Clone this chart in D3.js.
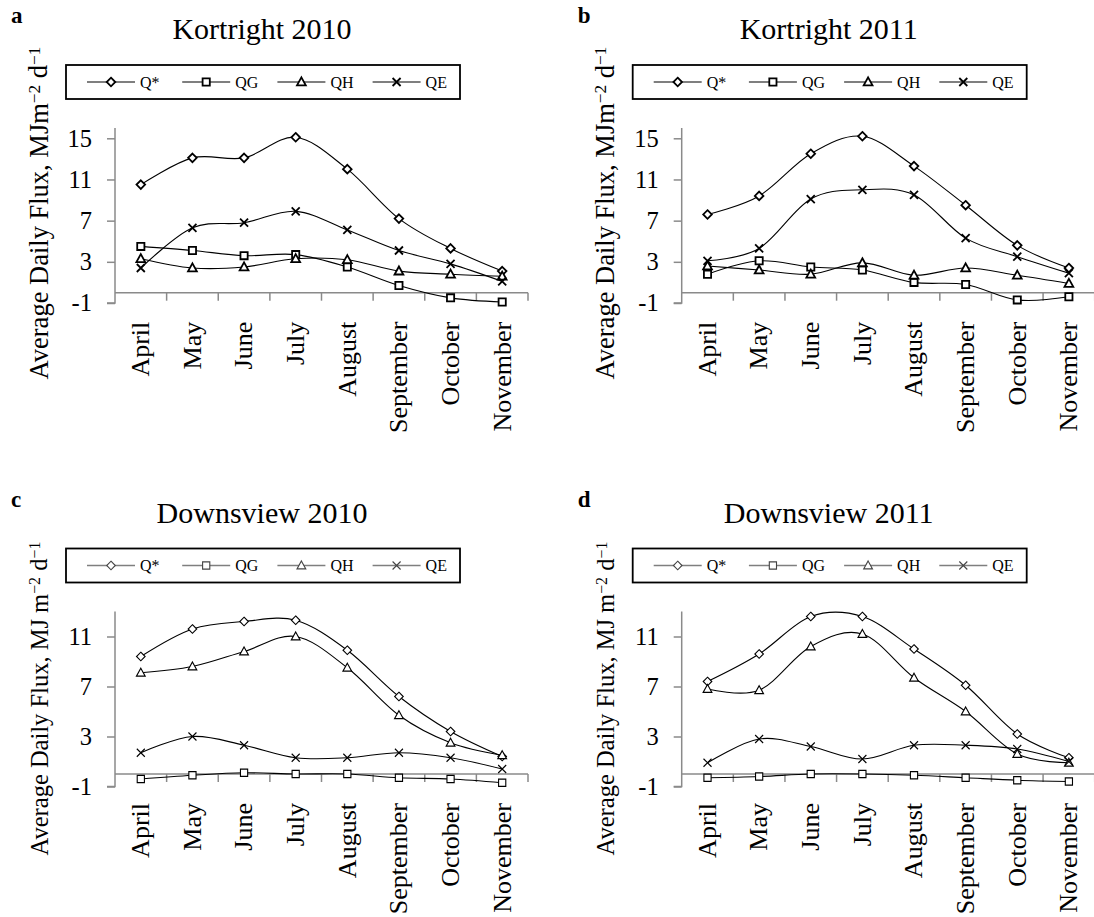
<!DOCTYPE html>
<html>
<head>
<meta charset="utf-8">
<script src="https://cdn.jsdelivr.net/npm/d3@7"></script>
<style>
  body { margin: 0; background: #fff; }
  svg text { font-family: "Liberation Serif", "Times New Roman", serif; fill: #000; }
</style>
</head>
<body>
<svg id="chart" width="1094" height="917"></svg>
<script>
// Months on the category axis
const months = ["April", "May", "June", "July", "August", "September", "October", "November"];
const seriesNames = ["Q*", "QG", "QH", "QE"];
const seriesShapes = ["diamond", "square", "triangle", "cross"];

// Kortright 2010 (MJ m-2 d-1)
const kort2010Qstar = [10.5, 13.1, 13.1, 15.1, 12.0, 7.2, 4.3, 2.1];
const kort2010QG    = [4.5, 4.1, 3.6, 3.7, 2.5, 0.7, -0.5, -0.9];
const kort2010QH    = [3.3, 2.4, 2.5, 3.3, 3.2, 2.1, 1.8, 1.6];
const kort2010QE    = [2.4, 6.3, 6.8, 7.9, 6.1, 4.1, 2.8, 1.1];

// Kortright 2011
const kort2011Qstar = [7.6, 9.4, 13.5, 15.2, 12.3, 8.5, 4.6, 2.4];
const kort2011QG    = [1.8, 3.1, 2.5, 2.2, 1.0, 0.8, -0.7, -0.4];
const kort2011QH    = [2.6, 2.2, 1.8, 2.9, 1.7, 2.4, 1.7, 0.9];
const kort2011QE    = [3.1, 4.3, 9.1, 10.0, 9.5, 5.3, 3.5, 1.9];

// Downsview 2010
const down2010Qstar = [9.4, 11.6, 12.2, 12.3, 9.9, 6.2, 3.4, 1.4];
const down2010QG    = [-0.4, -0.1, 0.1, 0.0, 0.0, -0.3, -0.4, -0.7];
const down2010QH    = [8.1, 8.6, 9.8, 11.0, 8.5, 4.7, 2.5, 1.5];
const down2010QE    = [1.7, 3.0, 2.3, 1.3, 1.3, 1.7, 1.3, 0.4];

// Downsview 2011
const down2011Qstar = [7.4, 9.6, 12.6, 12.6, 10.0, 7.1, 3.2, 1.3];
const down2011QG    = [-0.3, -0.2, 0.0, 0.0, -0.1, -0.3, -0.5, -0.6];
const down2011QH    = [6.8, 6.7, 10.2, 11.2, 7.7, 5.0, 1.6, 0.9];
const down2011QE    = [0.9, 2.8, 2.2, 1.2, 2.3, 2.3, 2.0, 1.0];

// Y axis ranges and ticks
const kortDomain = [-1, 16];
const kortTicks = [-1, 3, 7, 11, 15];
const downDomain = [-1, 13];
const downTicks = [-1, 3, 7, 11];

const panels = [
  { letter: "a", title: "Kortright 2010", unitMJ: "MJm", domain: kortDomain, ticks: kortTicks,
    data: [kort2010Qstar, kort2010QG, kort2010QH, kort2010QE], ox: 0, oy: 0, bold: true },
  { letter: "b", title: "Kortright 2011", unitMJ: "MJm", domain: kortDomain, ticks: kortTicks,
    data: [kort2011Qstar, kort2011QG, kort2011QH, kort2011QE], ox: 566.7, oy: 0, bold: true },
  { letter: "c", title: "Downsview 2010", unitMJ: "MJ m", domain: downDomain, ticks: downTicks,
    data: [down2010Qstar, down2010QG, down2010QH, down2010QE], ox: 0, oy: 483.5, bold: false },
  { letter: "d", title: "Downsview 2011", unitMJ: "MJ m", domain: downDomain, ticks: downTicks,
    data: [down2011Qstar, down2011QG, down2011QH, down2011QE], ox: 566.7, oy: 483.5, bold: false }
];

const axisColor = "#8a8a8a";
const plot = { left: 115, right: 528, top: 128, bottom: 303 };

function markerPath(shape) {
  switch (shape) {
    case "diamond": return "M0,-4.3L4.3,0L0,4.3L-4.3,0Z";
    case "square": return "M-3.6,-3.6H3.6V3.6H-3.6Z";
    case "triangle": return "M0,-4.6L4.4,3.4H-4.4Z";
    default: return "M-4,-4L4,4M4,-4L-4,4";
  }
}

const svg = d3.select("#chart");

panels.forEach(p => {
  const g = svg.append("g").attr("transform", `translate(${p.ox},${p.oy})`);
  const markerStroke = p.bold ? 1.8 : 1.1;

  const x = d3.scaleBand().domain(months).range([plot.left, plot.right]).padding(0);
  const y = d3.scaleLinear().domain(p.domain).range([plot.bottom, plot.top]);
  const cx = m => x(m) + x.bandwidth() / 2;

  // panel letter
  g.append("text").attr("x", 11).attr("y", 23)
    .attr("font-size", 23).attr("font-weight", "bold").text(p.letter);

  // title
  g.append("text").attr("x", 262).attr("y", 39).attr("text-anchor", "middle")
    .attr("font-size", 30).text(p.title);

  // y axis title with superscripts
  const yt = g.append("text")
    .attr("transform", `translate(47.5,${p.bold ? 213 : 215}) rotate(-90)`)
    .attr("text-anchor", "middle").attr("font-size", p.bold ? 26.5 : 24.5);
  yt.append("tspan").text("Average Daily Flux, " + p.unitMJ);
  yt.append("tspan").attr("dy", "-0.45em").attr("font-size", "0.65em").text("\u22122");
  yt.append("tspan").attr("dy", "0.29em").text(" d");
  yt.append("tspan").attr("dy", "-0.45em").attr("font-size", "0.65em").text("\u22121");

  // legend
  const lg = g.append("g").attr("transform", "translate(66,65)");
  lg.append("rect").attr("width", 394).attr("height", 34)
    .attr("fill", "#fff").attr("stroke", "#000").attr("stroke-width", 1.8);
  seriesNames.forEach((name, i) => {
    const x0 = 21 + 95.2 * i;
    const item = lg.append("g").attr("transform", `translate(${x0},17)`);
    item.append("line").attr("x1", 0).attr("x2", 48)
      .attr("stroke", p.bold ? "#000" : "#7f7f7f").attr("stroke-width", p.bold ? 1.2 : 1.4);
    item.append("path").attr("d", markerPath(seriesShapes[i]))
      .attr("transform", "translate(24,0)")
      .attr("fill", "#fff").attr("stroke", p.bold ? "#000" : "#444").attr("stroke-width", markerStroke);
    item.append("text").attr("x", 53).attr("y", 5.5).attr("font-size", 16).text(name);
  });

  // y axis
  const yAxis = g.append("g").attr("transform", `translate(${plot.left},0)`)
    .call(d3.axisLeft(y).tickValues(p.ticks).tickSize(8).tickPadding(15).tickFormat(d3.format("d")));
  yAxis.select(".domain").attr("stroke", axisColor).attr("stroke-width", 1.5)
    .attr("d", `M-8,${y(p.domain[0])}H0V${plot.top}`);
  yAxis.selectAll(".tick line").attr("stroke", axisColor).attr("stroke-width", 1.5);
  yAxis.selectAll(".tick text").attr("font-size", 24.5).attr("font-family", "Liberation Serif")
    .attr("fill", "#000").text(d => d < 0 ? "-" + Math.abs(d) : d);

  // x axis crossing at zero, ticks between categories
  const y0 = y(0);
  const xa = g.append("g");
  xa.append("line").attr("x1", plot.left).attr("x2", plot.right)
    .attr("y1", y0).attr("y2", y0).attr("stroke", axisColor).attr("stroke-width", 1.5);
  const bounds = months.map(m => x(m)).concat([plot.right]).slice(1);
  xa.selectAll("line.tk").data(bounds).join("line").attr("class", "tk")
    .attr("x1", d => d).attr("x2", d => d).attr("y1", y0).attr("y2", y0 + 8)
    .attr("stroke", axisColor).attr("stroke-width", 1.5);

  // month labels
  g.selectAll("text.month").data(months).join("text").attr("class", "month")
    .attr("transform", m => `translate(${cx(m)},${y0 + 29}) rotate(-90)`)
    .attr("text-anchor", "end").attr("dy", "0.32em").attr("font-size", 26).text(m => m);

  // series
  const line = d3.line().x((d, i) => cx(months[i])).y(d => y(d)).curve(d3.curveCardinal.tension(0));
  p.data.forEach((vals, si) => {
    g.append("path").datum(vals).attr("d", line)
      .attr("fill", "none").attr("stroke", "#000").attr("stroke-width", 1.1);
    g.selectAll(null).data(vals).join("path")
      .attr("d", markerPath(seriesShapes[si]))
      .attr("transform", (d, i) => `translate(${cx(months[i])},${y(d)})`)
      .attr("fill", "#fff").attr("stroke", "#000").attr("stroke-width", markerStroke);
  });
});
</script>
</body>
</html>
